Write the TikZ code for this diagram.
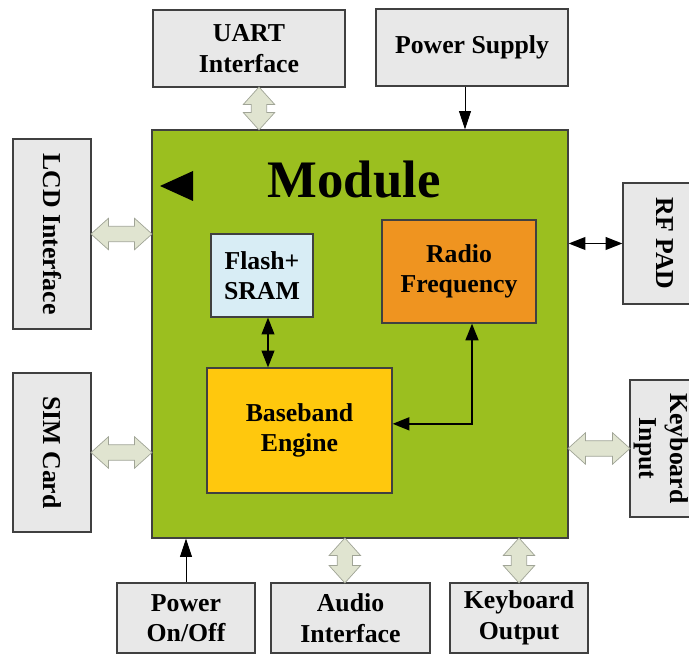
\documentclass[tikz,border=0pt]{standalone}
\usepackage{fontspec}
\setmainfont{Liberation Serif}
\usetikzlibrary{arrows.meta,shapes.arrows}
\definecolor{boxgray}{HTML}{E8E8E8}
\definecolor{modgreen}{HTML}{9BBF1F}
\definecolor{flashblue}{HTML}{D8EDF5}
\definecolor{radioorange}{HTML}{EF9420}
\definecolor{baseyellow}{HTML}{FFC80D}
\definecolor{arrowfill}{HTML}{E0E4D0}
\definecolor{arrowedge}{HTML}{A0A496}

\begin{document}
\begin{tikzpicture}[x=0.03cm, y=-0.03cm,
    box/.style={draw=black!75, line width=1pt, fill=boxgray, inner sep=0pt, align=center, font=\bfseries\fontsize{22}{26}\selectfont},
    side/.style={rotate=-90, align=center, font=\bfseries\fontsize{22}{26}\selectfont},
    hollow/.style={double arrow, draw=arrowedge, fill=arrowfill, inner xsep=0pt, inner ysep=0.22cm, double arrow head extend=0.24cm, double arrow tip angle=84, line width=0.6pt},
    vhollow/.style={hollow, shape border rotate=90, inner xsep=0.22cm, inner ysep=0pt},
    link/.style={line width=1.3pt, {Triangle[length=0.5cm,width=0.38cm]}-{Triangle[length=0.5cm,width=0.38cm]}},
    feed/.style={line width=0.8pt, -{Triangle[length=0.55cm,width=0.36cm]}}]
  \useasboundingbox (0,0) rectangle (689,655);
  \clip (0,0) rectangle (689,655);

  \node[box, fill=modgreen, minimum width=12.48cm, minimum height=12.24cm] (mod) at (360,334) {};
  \node[font=\bfseries\fontsize{45}{48}\selectfont] (title) at (354,180) {Module};
  \fill (160,186) -- (193,171) -- (193,201) -- cycle;

  \node[box, fill=flashblue, minimum width=3.06cm, minimum height=2.49cm] (flash) at (262,275.5) {Flash+\\SRAM};
  \node[box, fill=radioorange, minimum width=4.62cm, minimum height=3.09cm] (radio) at (459,271.5) {Radio\\Frequency};
  \node[box, fill=baseyellow, minimum width=5.55cm, minimum height=3.75cm] (base) at (299.5,430.5) {Baseband\\Engine};

  \node[box, minimum width=5.76cm, minimum height=2.31cm] (uart) at (249,48.5) {UART\\Interface};
  \node[box, minimum width=5.76cm, minimum height=2.31cm] (power) at (472,47.5) {Power Supply};
  \node[box, minimum width=2.34cm, minimum height=5.7cm, label={[side]center:LCD Interface}] (lcd) at (52,234) {};
  \node[box, minimum width=2.34cm, minimum height=4.77cm, label={[side]center:SIM Card}] (sim) at (52,452.5) {};
  \node[box, minimum width=2.52cm, minimum height=3.63cm, label={[side]center:RF PAD}] (pad) at (665,243.5) {};
  \node[box, minimum width=1.86cm, minimum height=4.11cm, label={[side]center:Keyboard\\Input}] (kin) at (661,448.5) {};
  \node[box, minimum width=4.14cm, minimum height=2.1cm] (onoff) at (186,618) {Power\\On/Off};
  \node[box, minimum width=4.77cm, minimum height=2.1cm] (audio) at (350.5,618) {Audio\\Interface};
  \node[box, minimum width=4.14cm, minimum height=2.1cm] (kout) at (519,618) {Keyboard\\Output};

  \path (lcd.east) -- (lcd.east -| mod.west) node[hollow, midway, minimum height=1.83cm] {};
  \path (sim.east) -- (sim.east -| mod.west) node[hollow, midway, minimum height=1.83cm] {};
  \path (kin.west) -- (kin.west -| mod.east) node[hollow, midway, minimum height=1.86cm] {};
  \path ([xshift=0.3cm]uart.south) -- ([xshift=0.3cm]uart.south |- mod.north) node[vhollow, midway, minimum height=1.29cm] {};
  \path ([xshift=-0.17cm]audio.north) -- ([xshift=-0.17cm]audio.north |- mod.south) node[vhollow, midway, minimum height=1.35cm] {};
  \path (kout.north) -- (kout.north |- mod.south) node[vhollow, midway, minimum height=1.35cm] {};

  \draw[feed] ([xshift=-0.21cm]power.south) -- ([xshift=-0.21cm]power.south |- mod.north);
  \draw[feed] (onoff.north) -- (onoff.north |- mod.south);
  \draw[link] (pad.west -| mod.east) -- (pad.west);
  \draw[link] ([xshift=0.18cm]flash.south) -- ([xshift=0.18cm]flash.south |- base.north);
  \draw[link, line width=2pt] ([yshift=0.2cm]base.east) -| ([xshift=0.39cm]radio.south);
\end{tikzpicture}
\end{document}
